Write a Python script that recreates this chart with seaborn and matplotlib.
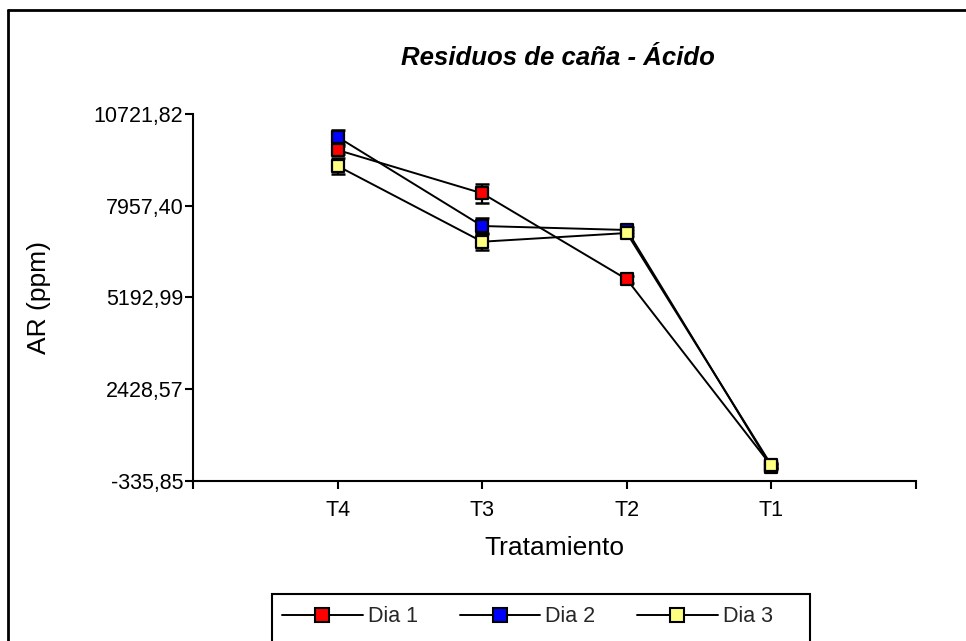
import numpy as np
import pandas as pd
import matplotlib
matplotlib.use("Agg")
import matplotlib.pyplot as plt
from matplotlib.lines import Line2D
from matplotlib.patches import Rectangle
import seaborn as sns

# ---- data ----
categories = ["T4", "T3", "T2", "T1"]
series_names = ["Dia 1", "Dia 2", "Dia 3"]
dia1 = [9637, 8332, 5741, 120]
dia2 = [10029, 7347, 7227, 90]
dia3 = [9155, 6874, 7136, 140]
err1 = [130, 280, 100, 60]
err2 = [200, 250, 90, 60]
err3 = [250, 250, 90, 60]
ytick_values = [-335.85, 2428.57, 5192.99, 7957.40, 10721.82]
ytick_labels = ["-335,85", "2428,57", "5192,99", "7957,40", "10721,82"]
colors = ["#ff0000", "#0000ff", "#ffff80"]

pos = np.arange(1, len(categories) + 1)
rows = []
for name, vals, errs in zip(series_names, [dia1, dia2, dia3], [err1, err2, err3]):
    for p, c, v, e in zip(pos, categories, vals, errs):
        rows.append({"pos": p, "Tratamiento": c, "Dia": name, "AR": v, "err": e})
df = pd.DataFrame(rows)

sns.set_theme(style="white")
plt.rcParams["font.family"] = ["Liberation Sans", "DejaVu Sans"]

fig = plt.figure(figsize=(9.66, 6.41), dpi=100)
ax = fig.add_axes([193 / 966, 1 - 481 / 641, (916 - 193) / 966, (481 - 114) / 641])

# connecting lines (black)
sns.lineplot(data=df, x="pos", y="AR", units="Dia", estimator=None, sort=False,
             color="black", linewidth=1.4, ax=ax, legend=False, zorder=2)

# error bars
for name in series_names:
    sub = df[df["Dia"] == name]
    ax.errorbar(sub["pos"], sub["AR"], yerr=sub["err"], fmt="none",
                ecolor="black", elinewidth=1.6, capsize=5, capthick=1.8, zorder=3)

# markers
sns.scatterplot(data=df, x="pos", y="AR", hue="Dia", palette=colors,
                marker="s", s=75, edgecolor="black", linewidth=1.6,
                ax=ax, legend=False, zorder=4)

ax.set_xlim(0, len(categories) + 1)
ax.set_ylim(ytick_values[0], ytick_values[-1])
ax.set_xticks(np.arange(0, len(categories) + 2))
ax.set_xticklabels([""] + categories + [""])
ax.set_yticks(ytick_values)
ax.set_yticklabels(ytick_labels)
ax.tick_params(axis="both", which="major", bottom=True, left=True, direction="out",
               length=6, width=1.5, color="black", labelsize=15.5, labelcolor="black")
ax.tick_params(axis="y", pad=1)
ax.tick_params(axis="x", pad=8)
for s in ["top", "right"]:
    ax.spines[s].set_visible(False)
for s in ["left", "bottom"]:
    ax.spines[s].set_color("black")
    ax.spines[s].set_linewidth(1.5)
ax.set_xlabel("Tratamiento", fontsize=19, color="black")
ax.set_ylabel("AR (ppm)", fontsize=19, color="black")
ax.xaxis.label.set_va("center")
ax.yaxis.label.set_va("center")
ax.xaxis.set_label_coords((554 - 193) / 723, (481 - 548) / 367)
ax.yaxis.set_label_coords((39 - 193) / 723, 0.5)
ax.patch.set_alpha(0)

fig.text(558 / 966, 1 - 58 / 641, "Residuos de caña - Ácido", ha="center", va="center",
         fontsize=18.5, fontweight="bold", fontstyle="italic", color="black")

# outer frame (left and top edges visible)
fig.add_artist(Line2D([8 / 966, 8 / 966], [0, 1 - 10 / 641], transform=fig.transFigure,
                      color="black", linewidth=2))
fig.add_artist(Line2D([8 / 966, 1], [1 - 10 / 641, 1 - 10 / 641], transform=fig.transFigure,
                      color="black", linewidth=2))

# legend frame
fig.add_artist(Rectangle((272 / 966, -0.05), (810 - 272) / 966, 1 - 594 / 641 + 0.05,
                         transform=fig.transFigure, fill=False, edgecolor="black", linewidth=1.5))
handles = [Line2D([0], [0], color="black", linewidth=1.4, marker="s", markersize=9.5,
                  markerfacecolor=c, markeredgecolor="black", markeredgewidth=1.5)
           for c in colors]
fig.legend(handles, series_names, loc="center left", bbox_to_anchor=(267 / 966, 1 - 617 / 641),
           ncol=3, frameon=False, fontsize=15.5, handlelength=3.75, handletextpad=0.22,
           columnspacing=1.95, borderpad=0.2)

fig.savefig("out.png", dpi=100)
